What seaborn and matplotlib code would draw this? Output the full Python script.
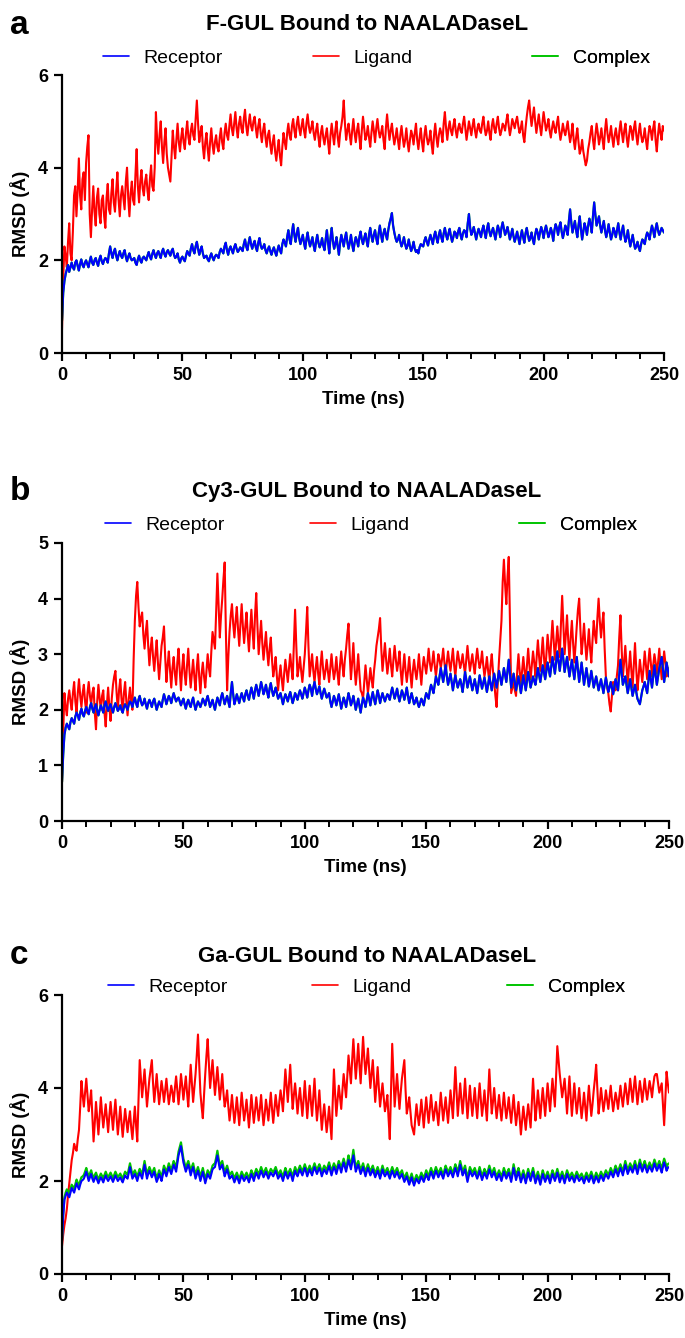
import matplotlib
matplotlib.use("Agg")
import matplotlib.pyplot as plt
import seaborn as sns
from matplotlib.lines import Line2D
from matplotlib.ticker import MultipleLocator

# ---------------- data (RMSD in Angstrom) ----------------
# values read at whole nanoseconds (0..250) and at half nanoseconds (0.5..249.5)
time_whole = list(range(0, 251))
time_half = [t + 0.5 for t in range(0, 250)]

ligand_a = [
    0.50, 2.30, 1.85, 2.80, 2.00, 3.40, 2.95, 4.20, 3.10, 3.90,
    4.10, 4.70, 2.50, 3.60, 2.75, 3.55, 2.80, 3.40, 2.70, 3.65,
    3.00, 3.75, 3.05, 3.90, 2.95, 3.60, 3.10, 4.00, 2.95, 3.70,
    3.20, 4.40, 3.25, 3.95, 3.40, 3.85, 3.30, 4.05, 3.50, 5.20,
    4.30, 5.00, 4.10, 4.85, 4.00, 3.70, 4.80, 4.20, 4.95, 4.35,
    4.85, 4.40, 5.00, 4.50, 4.95, 4.60, 5.45, 4.55, 4.90, 4.20,
    4.75, 4.15, 4.85, 4.30, 4.70, 4.35, 4.85, 4.40, 4.95, 4.60,
    5.15, 4.70, 5.20, 4.65, 5.10, 4.75, 5.25, 4.70, 5.15, 4.80,
    5.10, 4.65, 5.05, 4.55, 4.95, 4.45, 4.80, 4.30, 4.70, 4.15,
    4.60, 4.05, 4.75, 4.40, 4.95, 4.60, 5.05, 4.65, 5.10, 4.70,
    5.05, 4.65, 5.15, 4.75, 5.00, 4.60, 4.95, 4.45, 4.90, 4.50,
    4.85, 4.30, 4.95, 4.50, 5.00, 4.45, 4.90, 5.45, 4.60, 4.95,
    4.50, 5.05, 4.55, 4.95, 4.40, 5.10, 4.60, 4.90, 4.45, 5.00,
    4.55, 5.05, 4.65, 4.90, 4.40, 5.15, 4.60, 4.95, 4.50, 4.85,
    4.40, 4.90, 4.45, 4.85, 4.35, 4.80, 4.50, 4.95, 4.40, 4.85,
    4.35, 4.90, 4.50, 4.80, 4.30, 4.95, 4.45, 4.85, 4.55, 5.20,
    4.60, 5.00, 4.70, 5.05, 4.65, 4.95, 4.75, 5.10, 4.60, 5.00,
    4.70, 5.05, 4.65, 4.95, 4.75, 5.10, 4.70, 5.00, 4.60, 5.05,
    4.75, 5.10, 4.70, 4.95, 4.80, 5.15, 4.70, 5.05, 4.85, 5.10,
    4.75, 5.00, 4.55, 5.10, 5.45, 4.90, 5.30, 4.75, 5.15, 4.70,
    5.20, 4.80, 5.05, 4.65, 5.00, 4.75, 5.10, 4.60, 4.95, 4.70,
    5.00, 4.55, 4.95, 4.40, 4.85, 4.30, 4.60, 4.20, 4.15, 4.55,
    4.90, 4.40, 4.95, 4.50, 4.85, 4.40, 5.05, 4.55, 4.90, 4.45,
    4.85, 4.50, 5.00, 4.55, 4.95, 4.45, 4.90, 4.60, 5.00, 4.50,
    4.95, 4.55, 4.85, 4.40, 4.90, 4.60, 5.00, 4.35, 4.95, 4.60,
    4.80,
]
ligand_a_half = [
    1.60, 2.10, 2.40, 2.15, 2.60, 3.60, 3.50, 3.40, 3.75, 3.30,
    4.45, 3.00, 3.10, 3.05, 3.35, 3.00, 3.30, 2.95, 3.35, 3.10,
    3.45, 3.25, 3.50, 3.30, 3.40, 3.35, 3.70, 3.35, 3.45, 3.30,
    3.85, 3.60, 3.70, 3.55, 3.70, 3.50, 3.75, 3.60, 4.00, 4.60,
    4.70, 4.45, 4.55, 4.30, 3.85, 4.25, 4.45, 4.60, 4.55, 4.65,
    4.55, 4.75, 4.65, 4.80, 4.70, 5.05, 4.95, 4.75, 4.45, 4.55,
    4.40, 4.55, 4.50, 4.55, 4.45, 4.65, 4.55, 4.75, 4.70, 4.90,
    4.85, 4.95, 4.85, 4.95, 4.85, 5.05, 4.90, 4.95, 4.90, 5.00,
    4.85, 4.90, 4.75, 4.80, 4.65, 4.70, 4.50, 4.55, 4.35, 4.40,
    4.25, 4.45, 4.55, 4.75, 4.70, 4.90, 4.80, 4.95, 4.85, 4.90,
    4.80, 4.95, 4.90, 4.85, 4.75, 4.80, 4.65, 4.75, 4.65, 4.70,
    4.55, 4.70, 4.70, 4.80, 4.65, 4.75, 5.10, 4.95, 4.80, 4.70,
    4.80, 4.75, 4.80, 4.65, 4.80, 4.85, 4.70, 4.65, 4.75, 4.80,
    4.85, 4.80, 4.75, 4.60, 4.85, 4.85, 4.80, 4.70, 4.65, 4.60,
    4.70, 4.65, 4.60, 4.55, 4.60, 4.70, 4.75, 4.60, 4.65, 4.55,
    4.70, 4.65, 4.60, 4.50, 4.70, 4.65, 4.70, 4.75, 4.95, 4.85,
    4.85, 4.80, 4.90, 4.80, 4.85, 4.80, 4.95, 4.85, 4.80, 4.85,
    4.90, 4.80, 4.85, 4.80, 4.95, 4.85, 4.80, 4.75, 4.90, 4.85,
    4.95, 4.85, 4.80, 4.90, 5.00, 4.90, 4.85, 4.95, 5.00, 4.90,
    4.85, 4.70, 4.85, 5.30, 5.15, 5.10, 5.00, 4.95, 4.90, 4.95,
    5.00, 4.90, 4.80, 4.85, 4.85, 4.95, 4.80, 4.75, 4.80, 4.85,
    4.75, 4.70, 4.60, 4.65, 4.55, 4.40, 4.35, 4.05, 4.40, 4.75,
    4.60, 4.70, 4.75, 4.65, 4.60, 4.80, 4.75, 4.70, 4.65, 4.70,
    4.65, 4.80, 4.75, 4.80, 4.65, 4.70, 4.80, 4.85, 4.70, 4.75,
    4.70, 4.65, 4.60, 4.70, 4.80, 4.85, 4.60, 4.70, 4.75, 4.90,
]

receptor_a = [
    0.70, 1.55, 1.80, 1.75, 1.95, 1.80, 2.00, 1.78, 2.02, 1.85,
    2.00, 1.85, 2.08, 1.90, 2.05, 1.88, 2.10, 1.92, 2.05, 1.95,
    2.30, 2.05, 2.25, 2.00, 2.20, 2.05, 2.22, 1.98, 2.15, 2.00,
    2.05, 1.90, 2.10, 1.95, 2.08, 2.00, 2.18, 2.02, 2.22, 2.05,
    2.20, 2.05, 2.25, 2.08, 2.22, 2.10, 2.25, 2.05, 2.15, 1.95,
    2.08, 1.98, 2.20, 2.10, 2.35, 2.15, 2.40, 2.12, 2.30, 2.05,
    2.10, 1.98, 2.15, 2.00, 2.12, 2.05, 2.25, 2.15, 2.38, 2.12,
    2.30, 2.15, 2.35, 2.18, 2.28, 2.20, 2.45, 2.22, 2.50, 2.25,
    2.42, 2.20, 2.48, 2.25, 2.35, 2.15, 2.30, 2.12, 2.28, 2.10,
    2.32, 2.15, 2.45, 2.30, 2.65, 2.35, 2.78, 2.40, 2.70, 2.35,
    2.55, 2.25, 2.60, 2.30, 2.50, 2.20, 2.55, 2.28, 2.48, 2.22,
    2.65, 2.15, 2.70, 2.25, 2.50, 2.12, 2.55, 2.30, 2.60, 2.25,
    2.55, 2.20, 2.50, 2.30, 2.62, 2.35, 2.58, 2.30, 2.70, 2.40,
    2.65, 2.35, 2.75, 2.40, 2.68, 2.45, 2.80, 3.02, 2.60, 2.40,
    2.55, 2.30, 2.50, 2.25, 2.45, 2.20, 2.40, 2.18, 2.15, 2.35,
    2.30, 2.50, 2.32, 2.55, 2.35, 2.62, 2.38, 2.65, 2.40, 2.70,
    2.45, 2.68, 2.40, 2.62, 2.48, 2.70, 2.45, 2.65, 2.50, 3.00,
    2.55, 2.72, 2.45, 2.68, 2.50, 2.75, 2.48, 2.80, 2.52, 2.70,
    2.45, 2.75, 2.50, 2.82, 2.55, 2.72, 2.45, 2.68, 2.40, 2.62,
    2.35, 2.65, 2.38, 2.70, 2.42, 2.60, 2.35, 2.68, 2.45, 2.72,
    2.48, 2.75, 2.50, 2.70, 2.42, 2.78, 2.55, 2.82, 2.48, 2.75,
    2.55, 3.10, 2.60, 2.85, 2.50, 2.95, 2.45, 2.80, 2.55, 2.90,
    2.60, 3.25, 2.75, 2.95, 2.60, 2.85, 2.50, 2.78, 2.45, 2.70,
    2.50, 2.80, 2.45, 2.75, 2.40, 2.65, 2.30, 2.55, 2.25, 2.40,
    2.20, 2.45, 2.35, 2.60, 2.45, 2.75, 2.50, 2.80, 2.55, 2.70,
    2.60,
]
receptor_a_half = [
    1.30, 1.70, 1.90, 1.85, 1.85, 1.95, 1.88, 1.92, 1.90, 1.95,
    1.92, 1.98, 1.95, 2.00, 1.95, 2.02, 1.98, 2.00, 2.02, 2.15,
    2.15, 2.18, 2.10, 2.12, 2.10, 2.15, 2.08, 2.08, 2.05, 2.02,
    1.95, 2.02, 2.00, 2.05, 2.04, 2.10, 2.08, 2.14, 2.12, 2.15,
    2.12, 2.18, 2.14, 2.18, 2.15, 2.20, 2.12, 2.08, 2.02, 2.04,
    2.02, 2.10, 2.15, 2.25, 2.22, 2.30, 2.25, 2.22, 2.15, 2.08,
    2.02, 2.08, 2.06, 2.08, 2.10, 2.18, 2.20, 2.30, 2.22, 2.24,
    2.22, 2.28, 2.25, 2.22, 2.25, 2.35, 2.30, 2.38, 2.35, 2.35,
    2.28, 2.38, 2.32, 2.28, 2.22, 2.24, 2.20, 2.22, 2.18, 2.22,
    2.22, 2.35, 2.38, 2.50, 2.45, 2.60, 2.55, 2.58, 2.48, 2.45,
    2.38, 2.45, 2.42, 2.40, 2.32, 2.40, 2.38, 2.35, 2.32, 2.45,
    2.38, 2.48, 2.42, 2.35, 2.30, 2.38, 2.42, 2.48, 2.40, 2.38,
    2.35, 2.38, 2.42, 2.50, 2.45, 2.48, 2.42, 2.55, 2.52, 2.55,
    2.48, 2.58, 2.55, 2.58, 2.55, 2.65, 2.90, 2.75, 2.48, 2.45,
    2.40, 2.38, 2.35, 2.32, 2.30, 2.28, 2.25, 2.22, 2.28, 2.32,
    2.42, 2.40, 2.45, 2.45, 2.52, 2.48, 2.55, 2.50, 2.58, 2.55,
    2.58, 2.52, 2.50, 2.58, 2.62, 2.55, 2.58, 2.62, 2.80, 2.70,
    2.62, 2.58, 2.58, 2.60, 2.65, 2.60, 2.68, 2.62, 2.62, 2.58,
    2.62, 2.65, 2.70, 2.68, 2.62, 2.58, 2.55, 2.52, 2.50, 2.48,
    2.52, 2.50, 2.58, 2.55, 2.48, 2.45, 2.55, 2.60, 2.60, 2.62,
    2.65, 2.62, 2.58, 2.60, 2.65, 2.70, 2.72, 2.62, 2.60, 2.68,
    2.85, 2.82, 2.72, 2.65, 2.75, 2.68, 2.62, 2.70, 2.75, 2.78,
    2.95, 2.98, 2.85, 2.75, 2.72, 2.65, 2.62, 2.60, 2.55, 2.62,
    2.65, 2.60, 2.62, 2.55, 2.50, 2.45, 2.42, 2.38, 2.30, 2.28,
    2.35, 2.42, 2.50, 2.55, 2.62, 2.65, 2.68, 2.65, 2.62, 2.65,
]

ligand_b = [
    0.70, 2.30, 1.90, 2.35, 2.00, 2.50, 1.95, 2.55, 2.05, 2.45,
    1.95, 2.50, 2.10, 2.40, 1.65, 2.45, 2.00, 2.35, 1.70, 2.40,
    1.80, 2.45, 2.70, 2.00, 2.55, 1.95, 2.50, 1.90, 2.40, 2.00,
    3.60, 4.30, 3.50, 3.75, 3.10, 3.60, 2.80, 3.30, 2.70, 3.25,
    2.55, 3.15, 3.50, 2.50, 3.05, 2.40, 2.95, 2.45, 3.10, 2.35,
    3.00, 2.45, 3.10, 2.40, 2.90, 2.35, 3.00, 2.30, 2.85, 2.40,
    3.00, 2.60, 3.40, 3.10, 4.45, 3.30, 4.00, 4.65, 2.35, 3.40,
    3.90, 3.30, 3.85, 3.15, 3.90, 3.20, 3.75, 3.05, 3.80, 3.10,
    4.10, 3.00, 3.60, 2.90, 3.40, 2.80, 3.30, 2.60, 2.95, 2.35,
    2.80, 2.35, 2.90, 2.50, 3.00, 2.55, 3.80, 2.60, 2.95, 2.50,
    3.00, 3.85, 2.60, 3.00, 2.50, 2.95, 2.45, 3.05, 2.55, 2.90,
    2.50, 3.00, 2.55, 2.95, 2.45, 3.05, 2.60, 3.10, 3.55, 2.55,
    3.20, 2.45, 3.00, 2.35, 2.20, 2.80, 2.30, 2.75, 2.40, 2.90,
    3.30, 3.65, 2.70, 3.20, 2.65, 3.10, 2.60, 3.15, 2.70, 3.05,
    2.45, 3.00, 2.50, 2.95, 2.40, 2.90, 2.55, 3.00, 2.45, 2.95,
    2.65, 3.10, 2.70, 3.05, 2.60, 3.00, 2.75, 3.10, 2.65, 3.05,
    2.70, 3.10, 2.60, 3.05, 2.75, 3.00, 2.65, 3.15, 2.70, 3.00,
    2.65, 3.10, 2.75, 3.05, 2.60, 2.95, 2.50, 3.00, 2.50, 2.05,
    2.90, 3.60, 4.70, 3.90, 4.75, 2.30, 2.50, 2.25, 3.00, 2.45,
    2.95, 2.50, 3.10, 2.55, 3.05, 2.60, 3.25, 2.70, 3.30, 2.65,
    3.35, 2.85, 3.60, 2.90, 3.50, 2.95, 4.05, 3.00, 3.70, 2.90,
    3.60, 2.85, 3.50, 4.00, 3.00, 3.55, 2.90, 3.45, 2.85, 3.60,
    3.20, 4.00, 3.30, 3.75, 2.60, 2.30, 1.97, 2.50, 2.35, 2.80,
    3.70, 2.60, 3.15, 2.45, 3.05, 2.40, 3.20, 2.35, 2.90, 2.50,
    3.05, 2.55, 3.10, 2.60, 3.00, 2.65, 3.10, 2.55, 3.05, 2.60,
    2.75,
]
ligand_b_half = [
    1.60, 2.05, 2.20, 2.15, 2.30, 2.15, 2.30, 2.25, 2.30, 2.15,
    2.30, 2.25, 2.30, 1.95, 2.15, 2.20, 2.25, 1.95, 2.10, 2.05,
    2.20, 2.60, 2.30, 2.35, 2.20, 2.30, 2.15, 2.20, 2.15, 2.90,
    4.05, 3.85, 3.65, 3.35, 3.40, 3.15, 3.10, 2.95, 3.00, 2.85,
    2.85, 3.30, 2.95, 2.80, 2.70, 2.75, 2.65, 2.85, 2.70, 2.75,
    2.65, 2.80, 2.70, 2.65, 2.60, 2.75, 2.60, 2.65, 2.60, 2.70,
    2.75, 3.05, 3.25, 3.80, 3.85, 3.70, 4.35, 3.40, 2.95, 3.70,
    3.55, 3.60, 3.45, 3.55, 3.50, 3.50, 3.35, 3.45, 3.40, 3.70,
    3.50, 3.30, 3.20, 3.15, 3.05, 3.10, 2.90, 2.75, 2.60, 2.60,
    2.55, 2.65, 2.70, 2.75, 2.75, 3.20, 3.15, 2.75, 2.70, 2.75,
    3.40, 3.15, 2.80, 2.70, 2.75, 2.65, 2.80, 2.75, 2.70, 2.70,
    2.75, 2.75, 2.70, 2.65, 2.80, 2.80, 2.90, 3.35, 3.00, 2.85,
    2.75, 2.70, 2.65, 2.30, 2.50, 2.55, 2.50, 2.55, 2.70, 3.15,
    3.45, 3.10, 2.95, 2.90, 2.85, 2.80, 2.90, 2.90, 2.85, 2.70,
    2.75, 2.70, 2.70, 2.65, 2.70, 2.70, 2.75, 2.70, 2.75, 2.80,
    2.85, 2.85, 2.85, 2.80, 2.80, 2.90, 2.90, 2.85, 2.85, 2.85,
    2.90, 2.80, 2.85, 2.90, 2.85, 2.80, 2.90, 2.90, 2.85, 2.80,
    2.90, 2.90, 2.85, 2.80, 2.75, 2.70, 2.80, 2.70, 2.25, 2.50,
    3.25, 4.30, 4.25, 4.40, 3.60, 2.40, 2.35, 2.70, 2.70, 2.70,
    2.70, 2.80, 2.80, 2.80, 2.85, 2.95, 2.95, 3.00, 2.95, 3.00,
    3.10, 3.25, 3.25, 3.20, 3.20, 3.55, 3.50, 3.35, 3.25, 3.30,
    3.20, 3.15, 3.80, 3.45, 3.25, 3.20, 3.15, 3.10, 3.25, 3.35,
    3.65, 3.60, 3.55, 3.10, 2.40, 2.10, 2.25, 2.40, 2.60, 3.30,
    3.10, 2.85, 2.80, 2.75, 2.70, 2.80, 2.75, 2.60, 2.70, 2.75,
    2.80, 2.85, 2.85, 2.80, 2.85, 2.85, 2.80, 2.80, 2.85, 2.70,
]

receptor_b = [
    0.70, 1.55, 1.75, 1.65, 1.85, 1.75, 1.95, 1.82, 2.02, 1.88,
    2.05, 1.92, 2.12, 1.95, 2.10, 1.90, 2.08, 1.95, 2.15, 1.98,
    2.10, 1.95, 2.12, 1.98, 2.08, 1.95, 2.10, 2.00, 2.15, 2.05,
    2.22, 2.05, 2.25, 2.08, 2.20, 2.02, 2.18, 2.05, 2.20, 2.00,
    2.15, 2.05, 2.28, 2.10, 2.25, 2.12, 2.30, 2.15, 2.22, 2.08,
    2.20, 2.02, 2.18, 2.05, 2.22, 2.00, 2.15, 2.05, 2.20, 2.08,
    2.25, 2.05, 2.18, 2.00, 2.22, 2.08, 2.30, 2.10, 2.25, 2.05,
    2.50, 2.10, 2.28, 2.12, 2.30, 2.15, 2.35, 2.18, 2.40, 2.20,
    2.45, 2.25, 2.50, 2.28, 2.45, 2.22, 2.48, 2.25, 2.40, 2.20,
    2.30, 2.10, 2.28, 2.15, 2.32, 2.12, 2.30, 2.18, 2.35, 2.20,
    2.40, 2.22, 2.45, 2.25, 2.50, 2.28, 2.42, 2.20, 2.38, 2.22,
    2.30, 2.05, 2.25, 2.08, 2.28, 2.02, 2.22, 2.05, 2.30, 2.08,
    2.25, 2.00, 2.20, 1.95, 2.22, 2.05, 2.30, 2.08, 2.32, 2.10,
    2.35, 2.12, 2.30, 2.15, 2.28, 2.18, 2.40, 2.20, 2.38, 2.15,
    2.35, 2.18, 2.40, 2.12, 2.30, 2.10, 2.22, 2.05, 2.20, 2.08,
    2.30, 2.20, 2.45, 2.30, 2.60, 2.45, 2.75, 2.50, 2.80, 2.45,
    2.65, 2.35, 2.62, 2.40, 2.55, 2.32, 2.68, 2.40, 2.60, 2.35,
    2.55, 2.30, 2.62, 2.38, 2.58, 2.32, 2.60, 2.35, 2.65, 2.40,
    2.70, 2.45, 2.75, 2.50, 2.90, 2.40, 2.65, 2.35, 2.60, 2.30,
    2.62, 2.35, 2.68, 2.40, 2.60, 2.45, 2.75, 2.50, 2.80, 2.55,
    2.85, 2.60, 2.95, 2.65, 3.05, 2.70, 3.10, 2.68, 2.95, 2.60,
    2.90, 2.55, 2.95, 2.50, 2.85, 2.45, 2.75, 2.42, 2.70, 2.40,
    2.60, 2.35, 2.55, 2.30, 2.58, 2.32, 2.50, 2.28, 2.55, 2.35,
    2.90, 2.45, 2.60, 2.30, 2.55, 2.25, 2.45, 2.20, 2.10, 2.35,
    2.50, 2.30, 2.70, 2.40, 2.80, 2.45, 2.75, 2.95, 2.50, 2.85,
    2.60,
]
receptor_b_half = [
    1.20, 1.68, 1.70, 1.78, 1.80, 1.88, 1.90, 1.95, 1.92, 1.98,
    1.98, 2.05, 2.02, 2.05, 1.98, 2.00, 2.02, 2.08, 2.05, 2.05,
    2.02, 2.05, 2.05, 2.02, 2.00, 2.05, 2.05, 2.10, 2.12, 2.15,
    2.12, 2.18, 2.15, 2.12, 2.10, 2.12, 2.12, 2.15, 2.10, 2.08,
    2.10, 2.18, 2.20, 2.18, 2.20, 2.22, 2.22, 2.20, 2.15, 2.15,
    2.10, 2.12, 2.10, 2.15, 2.10, 2.08, 2.10, 2.12, 2.15, 2.18,
    2.15, 2.12, 2.08, 2.12, 2.15, 2.22, 2.20, 2.18, 2.15, 2.30,
    2.28, 2.18, 2.20, 2.22, 2.22, 2.28, 2.25, 2.30, 2.30, 2.35,
    2.35, 2.38, 2.40, 2.35, 2.32, 2.38, 2.35, 2.32, 2.30, 2.25,
    2.20, 2.20, 2.22, 2.25, 2.22, 2.20, 2.25, 2.28, 2.28, 2.30,
    2.32, 2.35, 2.38, 2.40, 2.38, 2.35, 2.30, 2.30, 2.30, 2.25,
    2.15, 2.15, 2.18, 2.18, 2.15, 2.12, 2.15, 2.18, 2.20, 2.15,
    2.12, 2.10, 2.08, 2.10, 2.15, 2.18, 2.20, 2.22, 2.20, 2.22,
    2.25, 2.22, 2.22, 2.22, 2.25, 2.30, 2.30, 2.28, 2.25, 2.25,
    2.28, 2.28, 2.25, 2.22, 2.20, 2.15, 2.12, 2.12, 2.15, 2.20,
    2.25, 2.35, 2.38, 2.45, 2.52, 2.60, 2.62, 2.65, 2.60, 2.55,
    2.50, 2.50, 2.50, 2.48, 2.45, 2.50, 2.55, 2.50, 2.48, 2.45,
    2.42, 2.45, 2.50, 2.48, 2.45, 2.45, 2.48, 2.50, 2.52, 2.55,
    2.58, 2.60, 2.62, 2.70, 2.65, 2.52, 2.50, 2.48, 2.45, 2.45,
    2.48, 2.52, 2.55, 2.50, 2.52, 2.60, 2.62, 2.65, 2.68, 2.70,
    2.72, 2.78, 2.80, 2.85, 2.88, 2.90, 2.90, 2.82, 2.78, 2.75,
    2.72, 2.75, 2.72, 2.68, 2.65, 2.60, 2.58, 2.55, 2.55, 2.50,
    2.48, 2.45, 2.42, 2.45, 2.45, 2.40, 2.40, 2.42, 2.45, 2.62,
    2.68, 2.52, 2.45, 2.42, 2.40, 2.35, 2.32, 2.15, 2.22, 2.42,
    2.40, 2.50, 2.55, 2.60, 2.62, 2.60, 2.85, 2.72, 2.68, 2.72,
]

ligand_c = [
    0.60, 1.05, 1.40, 1.95, 2.45, 2.80, 2.65, 3.10, 4.15, 3.60,
    4.20, 3.50, 3.95, 2.85, 3.70, 3.00, 3.80, 3.15, 3.65, 3.05,
    3.70, 3.10, 3.75, 3.00, 3.60, 2.95, 3.55, 3.05, 3.50, 2.90,
    3.60, 2.85, 4.60, 3.80, 4.40, 3.60, 4.20, 4.60, 3.70, 4.30,
    3.65, 4.15, 3.70, 4.20, 3.65, 4.05, 3.70, 4.25, 3.65, 4.30,
    3.75, 4.25, 3.60, 4.50, 3.70, 4.30, 5.15, 3.90, 3.35, 4.30,
    5.05, 4.00, 4.60, 3.85, 4.45, 3.75, 4.30, 3.60, 3.95, 3.30,
    3.85, 3.25, 3.80, 3.20, 3.90, 3.30, 3.75, 3.15, 3.85, 3.25,
    3.80, 3.30, 3.85, 3.20, 3.75, 3.30, 3.90, 3.25, 3.85, 3.40,
    3.95, 3.50, 4.40, 3.70, 4.50, 3.55, 4.10, 3.45, 4.00, 3.40,
    4.15, 3.35, 4.05, 3.40, 4.20, 3.30, 3.95, 3.10, 3.65, 3.05,
    3.60, 2.90, 4.40, 3.40, 4.05, 3.55, 4.30, 3.80, 4.70, 4.10,
    5.05, 4.20, 4.95, 4.10, 5.10, 4.30, 4.85, 4.00, 4.60, 3.70,
    4.45, 3.60, 4.10, 3.50, 3.85, 2.90, 4.95, 3.60, 4.30, 3.55,
    4.20, 4.60, 3.45, 3.80, 3.20, 3.00, 3.65, 3.20, 3.75, 3.15,
    3.80, 3.25, 3.85, 3.30, 3.70, 3.20, 3.90, 3.30, 3.80, 3.25,
    3.95, 3.35, 4.45, 3.40, 4.10, 3.45, 4.20, 3.35, 4.05, 3.40,
    4.00, 3.35, 4.10, 3.40, 3.95, 3.30, 4.40, 3.45, 4.00, 3.35,
    3.85, 3.30, 3.90, 3.35, 3.80, 3.25, 3.85, 3.20, 3.70, 3.00,
    3.60, 3.10, 3.65, 3.15, 4.20, 3.30, 3.95, 3.35, 4.00, 3.40,
    4.10, 3.50, 4.20, 3.60, 4.90, 4.30, 3.80, 4.20, 3.45, 4.25,
    3.40, 4.10, 3.45, 4.00, 3.35, 3.90, 3.30, 4.05, 3.40, 3.95,
    4.50, 3.45, 4.00, 3.50, 3.95, 3.55, 4.05, 3.50, 3.90, 3.55,
    4.05, 3.60, 4.10, 3.65, 4.20, 3.70, 4.25, 3.65, 4.15, 3.70,
    4.20, 3.75, 4.15, 3.80, 4.25, 4.30, 3.90, 4.10, 3.20, 4.35,
    3.90,
]
ligand_c_half = [
    0.85, 1.20, 1.70, 2.20, 2.60, 2.70, 2.90, 3.60, 3.85, 3.90,
    3.85, 3.70, 3.40, 3.25, 3.35, 3.40, 3.45, 3.40, 3.35, 3.40,
    3.40, 3.45, 3.35, 3.30, 3.25, 3.25, 3.30, 3.30, 3.15, 3.25,
    3.20, 3.70, 4.20, 4.10, 4.00, 3.90, 4.40, 4.10, 4.00, 3.95,
    3.90, 3.95, 3.95, 3.90, 3.85, 3.90, 4.00, 3.95, 3.95, 4.05,
    4.00, 3.90, 4.05, 4.10, 4.00, 4.70, 4.50, 3.60, 3.85, 4.70,
    4.50, 4.30, 4.20, 4.15, 4.10, 4.00, 3.90, 3.75, 3.60, 3.55,
    3.55, 3.50, 3.50, 3.55, 3.60, 3.50, 3.45, 3.50, 3.55, 3.50,
    3.55, 3.55, 3.50, 3.45, 3.55, 3.60, 3.55, 3.55, 3.60, 3.70,
    3.75, 3.95, 4.05, 4.10, 4.00, 3.85, 3.80, 3.75, 3.70, 3.75,
    3.75, 3.70, 3.70, 3.80, 3.70, 3.60, 3.50, 3.40, 3.35, 3.30,
    3.25, 3.70, 3.85, 3.75, 3.80, 3.95, 4.05, 4.25, 4.40, 4.60,
    4.60, 4.55, 4.50, 4.60, 4.65, 4.55, 4.40, 4.30, 4.15, 4.05,
    4.00, 3.85, 3.80, 3.65, 3.35, 3.95, 4.25, 3.95, 3.90, 3.90,
    4.40, 3.95, 3.60, 3.50, 3.10, 3.35, 3.40, 3.45, 3.45, 3.50,
    3.50, 3.55, 3.55, 3.50, 3.45, 3.55, 3.60, 3.55, 3.50, 3.60,
    3.65, 3.90, 3.90, 3.75, 3.75, 3.80, 3.75, 3.70, 3.70, 3.70,
    3.65, 3.75, 3.75, 3.65, 3.60, 3.85, 3.90, 3.70, 3.65, 3.60,
    3.55, 3.60, 3.60, 3.55, 3.50, 3.55, 3.50, 3.45, 3.35, 3.30,
    3.35, 3.40, 3.40, 3.70, 3.75, 3.60, 3.65, 3.70, 3.70, 3.75,
    3.80, 3.85, 3.90, 4.25, 4.60, 4.05, 4.00, 3.85, 3.85, 3.80,
    3.75, 3.75, 3.70, 3.65, 3.60, 3.60, 3.70, 3.70, 3.65, 4.20,
    3.95, 3.70, 3.75, 3.70, 3.75, 3.80, 3.75, 3.70, 3.75, 3.80,
    3.80, 3.85, 3.90, 3.90, 3.95, 4.00, 3.95, 3.90, 3.95, 3.95,
    3.95, 3.95, 4.00, 4.05, 4.30, 4.10, 4.00, 3.65, 3.75, 4.10,
]

receptor_c = [
    0.70, 1.60, 1.75, 1.65, 1.85, 1.75, 1.95, 1.82, 2.00, 2.05,
    2.20, 2.00, 2.15, 1.98, 2.10, 1.95, 2.08, 1.97, 2.12, 2.00,
    2.10, 1.98, 2.12, 2.00, 2.08, 1.97, 2.12, 2.05, 2.30, 2.05,
    2.15, 2.00, 2.18, 2.05, 2.35, 2.05, 2.22, 2.08, 2.20, 1.98,
    2.15, 2.00, 2.25, 2.10, 2.30, 2.15, 2.35, 2.20, 2.55, 2.75,
    2.40, 2.20, 2.35, 2.12, 2.30, 2.05, 2.22, 2.00, 2.20, 1.95,
    2.15, 2.05, 2.25, 2.30, 2.55, 2.25, 2.35, 2.10, 2.25, 2.05,
    2.12, 1.97, 2.10, 1.95, 2.12, 2.00, 2.10, 1.97, 2.15, 2.00,
    2.18, 2.05, 2.22, 2.08, 2.20, 2.05, 2.18, 2.10, 2.22, 2.05,
    2.15, 2.00, 2.20, 2.05, 2.18, 2.00, 2.22, 2.10, 2.25, 2.12,
    2.28, 2.10, 2.25, 2.12, 2.30, 2.15, 2.28, 2.10, 2.25, 2.15,
    2.32, 2.12, 2.30, 2.15, 2.35, 2.18, 2.40, 2.20, 2.45, 2.25,
    2.55, 2.20, 2.35, 2.15, 2.30, 2.10, 2.28, 2.12, 2.25, 2.08,
    2.22, 2.05, 2.25, 2.10, 2.20, 2.05, 2.22, 2.08, 2.20, 2.05,
    2.15, 1.98, 2.10, 1.92, 2.08, 1.90, 2.05, 1.95, 2.10, 1.98,
    2.15, 2.02, 2.20, 2.05, 2.22, 2.08, 2.20, 2.05, 2.25, 2.10,
    2.22, 2.08, 2.28, 2.10, 2.35, 2.12, 2.25, 1.98, 2.22, 2.10,
    2.20, 2.05, 2.22, 2.02, 2.18, 2.05, 2.25, 2.08, 2.20, 2.02,
    2.15, 2.00, 2.20, 2.05, 2.18, 1.98, 2.28, 2.02, 2.20, 1.97,
    2.15, 1.95, 2.18, 2.00, 2.20, 1.95, 2.12, 1.92, 2.15, 1.98,
    2.12, 1.95, 2.15, 2.00, 2.18, 1.97, 2.12, 1.95, 2.15, 2.00,
    2.10, 1.97, 2.12, 2.00, 2.08, 1.95, 2.10, 1.98, 2.12, 1.95,
    2.10, 1.97, 2.12, 2.00, 2.15, 2.05, 2.20, 2.08, 2.25, 2.10,
    2.28, 2.12, 2.35, 2.15, 2.30, 2.18, 2.35, 2.15, 2.38, 2.20,
    2.35, 2.18, 2.32, 2.20, 2.38, 2.22, 2.35, 2.18, 2.40, 2.22,
    2.30,
]
receptor_c_half = [
    1.25, 1.68, 1.70, 1.75, 1.80, 1.85, 1.88, 1.92, 2.02, 2.12,
    2.10, 2.08, 2.05, 2.05, 2.02, 2.02, 2.03, 2.05, 2.05, 2.05,
    2.04, 2.05, 2.06, 2.04, 2.02, 2.05, 2.08, 2.18, 2.18, 2.10,
    2.08, 2.10, 2.12, 2.20, 2.20, 2.15, 2.15, 2.14, 2.08, 2.05,
    2.08, 2.12, 2.18, 2.20, 2.22, 2.25, 2.28, 2.38, 2.65, 2.58,
    2.30, 2.28, 2.25, 2.22, 2.18, 2.14, 2.12, 2.10, 2.08, 2.05,
    2.10, 2.15, 2.28, 2.42, 2.40, 2.30, 2.22, 2.18, 2.15, 2.08,
    2.05, 2.04, 2.03, 2.04, 2.06, 2.05, 2.04, 2.06, 2.08, 2.10,
    2.12, 2.14, 2.15, 2.14, 2.12, 2.12, 2.14, 2.16, 2.14, 2.10,
    2.08, 2.10, 2.12, 2.12, 2.10, 2.12, 2.15, 2.18, 2.18, 2.20,
    2.20, 2.18, 2.18, 2.22, 2.22, 2.22, 2.20, 2.18, 2.20, 2.24,
    2.22, 2.22, 2.24, 2.25, 2.28, 2.30, 2.30, 2.32, 2.35, 2.40,
    2.38, 2.28, 2.25, 2.22, 2.20, 2.20, 2.20, 2.18, 2.16, 2.15,
    2.14, 2.15, 2.16, 2.15, 2.12, 2.14, 2.15, 2.14, 2.12, 2.10,
    2.06, 2.04, 2.00, 2.00, 1.98, 1.98, 2.00, 2.02, 2.04, 2.06,
    2.08, 2.12, 2.12, 2.14, 2.15, 2.14, 2.12, 2.15, 2.18, 2.16,
    2.15, 2.18, 2.20, 2.22, 2.24, 2.18, 2.12, 2.10, 2.16, 2.15,
    2.12, 2.12, 2.12, 2.10, 2.12, 2.15, 2.16, 2.14, 2.10, 2.08,
    2.08, 2.10, 2.12, 2.12, 2.08, 2.12, 2.15, 2.12, 2.08, 2.06,
    2.05, 2.06, 2.08, 2.10, 2.08, 2.04, 2.02, 2.04, 2.06, 2.05,
    2.04, 2.05, 2.08, 2.08, 2.08, 2.05, 2.04, 2.05, 2.08, 2.05,
    2.04, 2.05, 2.06, 2.04, 2.02, 2.03, 2.04, 2.05, 2.04, 2.02,
    2.04, 2.05, 2.06, 2.08, 2.10, 2.12, 2.14, 2.16, 2.18, 2.20,
    2.20, 2.24, 2.25, 2.22, 2.24, 2.26, 2.25, 2.26, 2.28, 2.28,
    2.26, 2.25, 2.26, 2.28, 2.30, 2.28, 2.26, 2.30, 2.32, 2.28,
]

complex_c = [
    0.72, 1.65, 1.82, 1.72, 1.92, 1.83, 2.03, 1.90, 2.08, 2.13,
    2.28, 2.08, 2.23, 2.06, 2.18, 2.03, 2.16, 2.05, 2.20, 2.08,
    2.18, 2.06, 2.20, 2.08, 2.16, 2.05, 2.20, 2.13, 2.38, 2.13,
    2.23, 2.08, 2.26, 2.13, 2.43, 2.13, 2.30, 2.16, 2.28, 2.06,
    2.23, 2.08, 2.33, 2.18, 2.38, 2.23, 2.43, 2.28, 2.63, 2.83,
    2.48, 2.28, 2.43, 2.20, 2.38, 2.13, 2.30, 2.08, 2.28, 2.03,
    2.23, 2.13, 2.33, 2.38, 2.65, 2.33, 2.43, 2.18, 2.33, 2.13,
    2.20, 2.05, 2.18, 2.03, 2.20, 2.08, 2.18, 2.05, 2.23, 2.08,
    2.26, 2.13, 2.30, 2.16, 2.28, 2.13, 2.26, 2.18, 2.30, 2.13,
    2.23, 2.08, 2.28, 2.13, 2.26, 2.08, 2.30, 2.18, 2.33, 2.20,
    2.36, 2.18, 2.33, 2.20, 2.38, 2.23, 2.36, 2.18, 2.33, 2.23,
    2.40, 2.20, 2.38, 2.23, 2.43, 2.26, 2.48, 2.28, 2.55, 2.33,
    2.67, 2.28, 2.43, 2.23, 2.38, 2.18, 2.36, 2.20, 2.33, 2.16,
    2.30, 2.13, 2.33, 2.18, 2.28, 2.13, 2.30, 2.16, 2.28, 2.13,
    2.23, 2.06, 2.18, 2.00, 2.16, 1.98, 2.13, 2.03, 2.18, 2.06,
    2.23, 2.10, 2.28, 2.13, 2.30, 2.16, 2.28, 2.13, 2.33, 2.18,
    2.30, 2.16, 2.36, 2.18, 2.43, 2.20, 2.33, 2.06, 2.30, 2.18,
    2.28, 2.13, 2.30, 2.10, 2.26, 2.13, 2.33, 2.16, 2.28, 2.10,
    2.23, 2.08, 2.28, 2.13, 2.26, 2.06, 2.36, 2.10, 2.28, 2.05,
    2.23, 2.03, 2.26, 2.08, 2.28, 2.03, 2.20, 2.00, 2.23, 2.06,
    2.20, 2.03, 2.23, 2.08, 2.26, 2.05, 2.20, 2.03, 2.23, 2.08,
    2.18, 2.05, 2.20, 2.08, 2.16, 2.03, 2.18, 2.06, 2.20, 2.03,
    2.18, 2.05, 2.20, 2.08, 2.23, 2.13, 2.28, 2.16, 2.33, 2.18,
    2.36, 2.20, 2.43, 2.23, 2.38, 2.26, 2.43, 2.23, 2.46, 2.28,
    2.43, 2.26, 2.40, 2.28, 2.46, 2.30, 2.43, 2.26, 2.48, 2.30,
    2.38,
]
complex_c_half = [
    1.30, 1.75, 1.78, 1.83, 1.88, 1.93, 1.96, 2.00, 2.10, 2.20,
    2.18, 2.16, 2.13, 2.13, 2.10, 2.10, 2.11, 2.13, 2.13, 2.13,
    2.12, 2.13, 2.14, 2.12, 2.10, 2.13, 2.16, 2.26, 2.26, 2.18,
    2.16, 2.18, 2.20, 2.28, 2.28, 2.23, 2.23, 2.22, 2.16, 2.13,
    2.16, 2.20, 2.26, 2.28, 2.30, 2.33, 2.36, 2.46, 2.73, 2.66,
    2.38, 2.36, 2.33, 2.30, 2.26, 2.22, 2.20, 2.18, 2.16, 2.13,
    2.18, 2.23, 2.36, 2.50, 2.48, 2.38, 2.30, 2.26, 2.23, 2.16,
    2.13, 2.12, 2.11, 2.12, 2.14, 2.13, 2.12, 2.14, 2.16, 2.18,
    2.20, 2.22, 2.23, 2.22, 2.20, 2.20, 2.22, 2.24, 2.22, 2.18,
    2.16, 2.18, 2.20, 2.20, 2.18, 2.20, 2.23, 2.26, 2.26, 2.28,
    2.28, 2.26, 2.26, 2.30, 2.30, 2.30, 2.28, 2.26, 2.28, 2.32,
    2.30, 2.30, 2.32, 2.33, 2.36, 2.38, 2.38, 2.40, 2.43, 2.48,
    2.46, 2.36, 2.33, 2.30, 2.28, 2.28, 2.28, 2.26, 2.24, 2.23,
    2.22, 2.23, 2.24, 2.23, 2.20, 2.22, 2.23, 2.22, 2.20, 2.18,
    2.14, 2.12, 2.08, 2.08, 2.06, 2.06, 2.08, 2.10, 2.12, 2.14,
    2.16, 2.20, 2.20, 2.22, 2.23, 2.22, 2.20, 2.23, 2.26, 2.24,
    2.23, 2.26, 2.28, 2.30, 2.32, 2.26, 2.20, 2.18, 2.24, 2.23,
    2.20, 2.20, 2.20, 2.18, 2.20, 2.23, 2.24, 2.22, 2.18, 2.16,
    2.16, 2.18, 2.20, 2.20, 2.16, 2.20, 2.23, 2.20, 2.16, 2.14,
    2.13, 2.14, 2.16, 2.18, 2.16, 2.12, 2.10, 2.12, 2.14, 2.13,
    2.12, 2.13, 2.16, 2.16, 2.16, 2.13, 2.12, 2.13, 2.16, 2.13,
    2.12, 2.13, 2.14, 2.12, 2.10, 2.11, 2.12, 2.13, 2.12, 2.10,
    2.12, 2.13, 2.14, 2.16, 2.18, 2.20, 2.22, 2.24, 2.26, 2.28,
    2.28, 2.32, 2.33, 2.30, 2.32, 2.34, 2.33, 2.34, 2.36, 2.36,
    2.34, 2.33, 2.34, 2.36, 2.38, 2.36, 2.34, 2.38, 2.40, 2.36,
]

panel_letters = ["a", "b", "c"]
panel_titles = ["F-GUL Bound to NAALADaseL",
                "Cy3-GUL Bound to NAALADaseL",
                "Ga-GUL Bound to NAALADaseL"]
series_names = ["Receptor", "Ligand", "Complex"]
x_label = "Time (ns)"
y_label = "RMSD (Å)"
x_ticks = [0, 50, 100, 150, 200, 250]
y_ticks_a = [0, 2, 4, 6]
y_ticks_b = [0, 1, 2, 3, 4, 5]
y_ticks_c = [0, 2, 4, 6]

for arr in (ligand_a, receptor_a, ligand_b, receptor_b,
            ligand_c, receptor_c, complex_c):
    assert len(arr) == len(time_whole), len(arr)
for arr in (ligand_a_half, receptor_a_half, ligand_b_half, receptor_b_half,
            ligand_c_half, receptor_c_half, complex_c_half):
    assert len(arr) == len(time_half), len(arr)


def merge(whole, half):
    """Interleave the whole-ns and half-ns readings into one time series."""
    t, v = [], []
    for i in range(len(half)):
        t += [time_whole[i], time_half[i]]
        v += [whole[i], half[i]]
    t.append(time_whole[-1])
    v.append(whole[-1])
    return t, v


# ---------------- style ----------------
sns.set_style("ticks")
plt.rcParams["font.family"] = ["Liberation Sans", "DejaVu Sans"]
for key in ("text.color", "axes.labelcolor", "xtick.color", "ytick.color",
            "axes.edgecolor"):
    plt.rcParams[key] = "black"

COL = {"Receptor": "#0000FF", "Ligand": "#FF0000", "Complex": "#00C400"}
LW = {"Receptor": 1.5, "Ligand": 1.5, "Complex": 1.6}
W, H = 685.0, 1338.0

fig = plt.figure(figsize=(6.85, 13.38), dpi=100)

panels = [
    dict(rec=(receptor_a, receptor_a_half), lig=(ligand_a, ligand_a_half),
         cpx=(receptor_a, receptor_a_half),  # complex hidden beneath receptor
         yt=y_ticks_a, box=(62, 75, 664, 353), title_y=25, leg_y=58,
         leg_x=(103, 313, 532)),
    dict(rec=(receptor_b, receptor_b_half), lig=(ligand_b, ligand_b_half),
         cpx=(receptor_b, receptor_b_half),  # complex hidden beneath receptor
         yt=y_ticks_b, box=(62, 543, 669, 821), title_y=492, leg_y=525,
         leg_x=(105, 310, 519)),
    dict(rec=(receptor_c, receptor_c_half), lig=(ligand_c, ligand_c_half),
         cpx=(complex_c, complex_c_half),
         yt=y_ticks_c, box=(62, 995, 669, 1274), title_y=956, leg_y=987,
         leg_x=(108, 312, 507)),
]

for i, p in enumerate(panels):
    x0, y0, x1, y1 = p["box"]
    ax = fig.add_axes([x0 / W, 1 - y1 / H, (x1 - x0) / W, (y1 - y0) / H])
    for name, key in (("Ligand", "lig"), ("Complex", "cpx"),
                      ("Receptor", "rec")):
        t, v = merge(*p[key])
        sns.lineplot(x=t, y=v, ax=ax, color=COL[name], lw=LW[name],
                     estimator=None, sort=False, legend=False)
    ax.set_xlim(0, 250)
    ax.set_ylim(0, p["yt"][-1])
    ax.set_xticks(x_ticks)
    ax.xaxis.set_minor_locator(MultipleLocator(10))
    ax.set_yticks(p["yt"])
    for s in ("top", "right"):
        ax.spines[s].set_visible(False)
    for s in ("left", "bottom"):
        ax.spines[s].set_linewidth(1.6)
        ax.spines[s].set_color("black")
        ax.spines[s].set_zorder(5)
    ax.tick_params(axis="both", which="major", length=6, width=1.6,
                   color="black", labelsize=13, pad=4)
    ax.tick_params(axis="x", which="minor", length=4, width=1.4, color="black")
    for lab in ax.get_xticklabels() + ax.get_yticklabels():
        lab.set_fontweight("bold")
    ax.set_xlabel(x_label, fontsize=13.5, fontweight="bold", labelpad=5)
    ax.set_ylabel(y_label, fontsize=13.5, fontweight="bold", labelpad=6)

    fig.text(367 / W, 1 - p["title_y"] / H, panel_titles[i], ha="center",
             va="center", fontsize=16, fontweight="bold")
    fig.text(10 / W, 1 - p["title_y"] / H, panel_letters[i], ha="left",
             va="center", fontsize=24, fontweight="bold")

    for name, lx in zip(series_names, p["leg_x"]):
        h = Line2D([], [], color=COL[name], lw=1.2)
        leg = ax.legend([h], [name], loc="center left",
                        bbox_to_anchor=(lx / W, 1 - p["leg_y"] / H),
                        bbox_transform=fig.transFigure, frameon=False,
                        borderpad=0, borderaxespad=0, handlelength=1.35,
                        handletextpad=0.75, fontsize=14)
        ax.add_artist(leg)

fig.savefig("out.png", dpi=100)
